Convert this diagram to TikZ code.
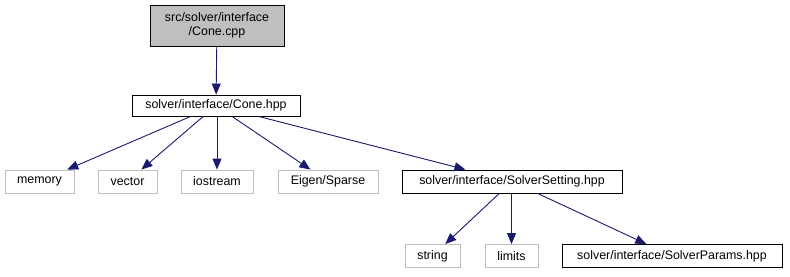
\documentclass[tikz,border=0pt]{standalone}
\usepackage{fontspec}
\setmainfont{Liberation Sans}
\usetikzlibrary{arrows.meta}
\definecolor{edgeblue}{HTML}{191970}
\definecolor{greyline}{HTML}{BFBFBF}
\begin{document}
\begin{tikzpicture}[x=1pt,y=-1pt,
  box/.style={draw=black, line width=0.9pt, fill=white, inner sep=0pt,
    minimum height=22pt, font=\fontsize{12.4}{14.5}\selectfont},
  sysbox/.style={box, draw=greyline},
  rootbox/.style={box, fill=greyline, align=center},
  dep/.style={draw=edgeblue, line width=0.9pt,
    -{Triangle[length=11pt,width=9pt]}}]
\useasboundingbox (0,0) rectangle (790,276);

% source file and its direct header
\node[rootbox, minimum width=134pt, minimum height=41pt] (src) at (217,25.5)
  {src/solver/interface\\/Cone.cpp};
\node[box, minimum width=168pt, minimum height=21pt] (cone) at (216,105.5)
  {solver/interface/Cone.hpp};

% headers included by Cone.hpp
\node[sysbox, minimum width=69pt, minimum height=23pt] (memory) at (39.5,181.5) {memory};
\node[sysbox, minimum width=59pt, minimum height=23pt] (vector) at (127.5,181.5) {vector};
\node[sysbox, minimum width=72pt, minimum height=23pt] (iostream) at (217,181.5) {iostream};
\node[sysbox, minimum width=100pt, minimum height=23pt] (eigen) at (328,181.5) {Eigen/Sparse};
\node[box, minimum width=220pt, minimum height=23pt] (setting) at (512,181.5)
  {solver/interface/SolverSetting.hpp};

% headers included by SolverSetting.hpp
\node[sysbox, minimum width=55pt, minimum height=23pt] (string) at (432.5,256) {string};
\node[sysbox, minimum width=53pt, minimum height=23pt] (limits) at (511.5,256) {limits};
\node[box, minimum width=220pt, minimum height=23pt] (params) at (672,256)
  {solver/interface/SolverParams.hpp};

% include edges
\draw[dep] (src) -- (cone);
\draw[dep] (cone) -- (memory);
\draw[dep] (cone) -- (vector);
\draw[dep] (cone.south -| iostream) -- (iostream);
\draw[dep] (cone) -- (eigen);
\draw[dep] (cone) -- (setting);
\draw[dep] (setting) -- (string);
\draw[dep] (setting.south -| limits) -- (limits);
\draw[dep] (setting) -- (params);
\end{tikzpicture}
\end{document}
